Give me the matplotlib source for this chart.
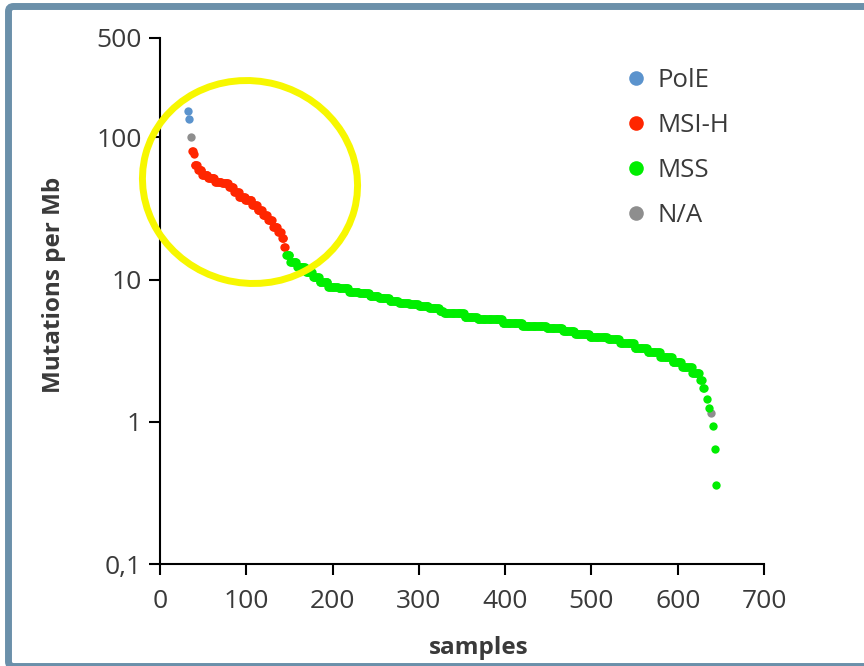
import matplotlib

matplotlib.use("Agg")
import matplotlib.pyplot as plt
import numpy as np
from matplotlib import transforms
from matplotlib.lines import Line2D
from matplotlib.patches import Ellipse, FancyBboxPatch
from matplotlib.ticker import NullLocator

plt.rcParams["font.family"] = ["Open Sans", "DejaVu Sans"]

# samples sorted by mutation rate
pole_x = [32, 34]
pole_y = [153, 134]

na_x = [36, 638]
na_y = [100, 1.15]

# MSI-H curve as steps: value and number of samples at that value
msi_start = 37
msi_levels = [80, 76, 64, 59, 54, 51.4, 48.7, 47.4, 45, 41.4, 38.1, 36.1,
              33.3, 30.8, 28.4, 26.2, 23.5, 21.7, 19.5, 17.0]
msi_counts = [2, 1, 4, 5, 7, 8, 8, 8, 6, 6, 7, 8, 6, 6, 6, 6, 6, 4, 3, 2]

mss_start = 146
mss_levels = [14.9, 13.3, 12.3, 11.3, 10.5, 9.66, 8.9, 8.67, 8.2, 8.0, 7.66,
              7.38, 7.1, 6.87, 6.73, 6.52, 6.28, 6.01, 5.82, 5.48, 5.28, 4.92,
              4.74, 4.54, 4.37, 4.14, 3.93, 3.80, 3.60, 3.29, 3.11, 2.87, 2.65,
              2.44, 2.19, 1.97, 1.72]
mss_counts = [5, 8, 10, 8, 8, 10, 12, 12, 12, 12, 11, 12, 11, 12, 11, 12, 12,
              5, 24, 15, 29, 23, 28, 19, 14, 17, 21, 14, 17, 15, 15, 14, 11,
              12, 9, 3, 2]
mss_tail_x = [634, 636, 641, 643, 644]
mss_tail_y = [1.44, 1.25, 0.94, 0.65, 0.36]

y_ticks = [0.1, 1, 10, 100, 500]
y_tick_labels = ["0,1", "1", "10", "100", "500"]
x_ticks = [0, 100, 200, 300, 400, 500, 600, 700]

COLORS = {
    "PolE": "#5b93cd",
    "MSI-H": "#ff2600",
    "MSS": "#00ee00",
    "N/A": "#8e8e8e",
}
TEXT = "#3a3a3a"
FRAME = "#6b90aa"
W, H = 864, 666


def expand_steps(start, levels, counts):
    y = np.repeat(np.array(levels, dtype=float), counts)
    x = start + np.arange(len(y))
    return x, y


def main():
    fig = plt.figure(figsize=(W / 100, H / 100), dpi=100)
    ax = fig.add_axes([160 / W, 1 - 564.3 / H, 604 / W, 526.6 / H])

    msi_x, msi_y = expand_steps(msi_start, msi_levels, msi_counts)
    mss_x, mss_y = expand_steps(mss_start, mss_levels, mss_counts)
    mss_x = np.concatenate([mss_x, mss_tail_x])
    mss_y = np.concatenate([mss_y, mss_tail_y])

    size = 36
    ax.scatter(na_x, na_y, s=size, color=COLORS["N/A"], linewidths=0, zorder=2)
    ax.scatter(pole_x, pole_y, s=size, color=COLORS["PolE"], linewidths=0, zorder=3)
    ax.scatter(msi_x, msi_y, s=size, color=COLORS["MSI-H"], linewidths=0, zorder=3)
    ax.scatter(mss_x, mss_y, s=size, color=COLORS["MSS"], linewidths=0, zorder=3)

    ax.set_yscale("log")
    ax.set_ylim(0.1, 500)
    ax.set_xlim(0, 700)
    ax.set_yticks(y_ticks)
    ax.set_yticklabels(y_tick_labels)
    ax.yaxis.set_minor_locator(NullLocator())
    ax.set_xticks(x_ticks)

    for side in ("top", "right"):
        ax.spines[side].set_visible(False)
    for side in ("left", "bottom"):
        ax.spines[side].set_linewidth(1.5)
    ax.tick_params(axis="both", length=8, width=1.5, colors="black",
                   labelcolor=TEXT, labelsize=19)
    ax.tick_params(axis="x", pad=10)
    ax.tick_params(axis="y", pad=5)

    ax.set_ylabel("Mutations per Mb", fontsize=17.5, fontweight="bold", color=TEXT)
    ax.set_xlabel("samples", fontsize=17.5, fontweight="bold", color=TEXT)
    ax.yaxis.set_label_coords(-0.155, 0.531)
    ax.xaxis.set_label_coords(0.527, -0.136)

    handles = [
        Line2D([], [], linestyle="none", marker="o", markersize=10.5,
               markerfacecolor=COLORS[name], markeredgewidth=0, label=name)
        for name in ("PolE", "MSI-H", "MSS", "N/A")
    ]
    leg = ax.legend(handles=handles, loc="upper left", bbox_to_anchor=(0.745, 0.966),
                    frameon=False, fontsize=18.5, labelspacing=0.77,
                    handletextpad=0.35, handlelength=1.0, borderpad=0)
    for t in leg.get_texts():
        t.set_color(TEXT)

    # pixel coordinates, origin bottom left
    px = transforms.Affine2D().scale(1 / W, 1 / H) + fig.transFigure

    ring = Ellipse((250, H - 182), 216, 202, angle=-15, fill=False,
                   edgecolor="#f7f700", linewidth=5.0, transform=px, zorder=5,
                   clip_on=False)
    fig.add_artist(ring)

    frame = FancyBboxPatch((8.5, -0.5), 880, H - 6.5 + 0.5,
                           boxstyle="round,pad=0,rounding_size=5",
                           fill=False, edgecolor=FRAME, linewidth=5.0,
                           transform=px, clip_on=False)
    fig.add_artist(frame)

    fig.savefig("out.png", dpi=100)
    plt.close(fig)


if __name__ == "__main__":
    main()
